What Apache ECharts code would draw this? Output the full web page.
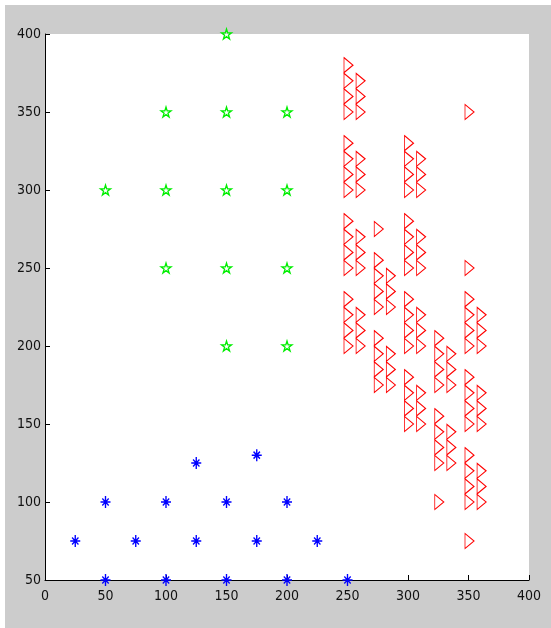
<!DOCTYPE html>
<html>
<head>
<meta charset="utf-8">
<script src="https://cdn.jsdelivr.net/npm/echarts@6/dist/echarts.min.js"></script>
<style>
html,body{margin:0;padding:0;background:#ffffff;}
#frame{position:absolute;left:5px;top:5px;right:0;bottom:0;background:#cccccc;}
#chart{position:absolute;left:0;top:0;width:551px;height:628px;}
</style>
</head>
<body>
<div id="frame"></div>
<div id="chart"></div>
<script>
// Blue asterisks
const blueX = [50, 100, 150, 200, 250, 25, 75, 125, 175, 225, 50, 100, 150, 200, 125, 175];
const blueY = [50, 50, 50, 50, 50, 75, 75, 75, 75, 75, 100, 100, 100, 100, 125, 130];

// Green pentagrams
const greenX = [150, 100, 150, 200, 50, 100, 150, 200, 100, 150, 200, 150, 200];
const greenY = [400, 350, 350, 350, 300, 300, 300, 300, 250, 250, 250, 200, 200];

// Red right-pointing triangles, by column
const redColumnX = [250, 260, 275, 285, 300, 310, 325, 335, 350, 360];
const redColumnY = [
  [380, 370, 360, 350, 330, 320, 310, 300, 280, 270, 260, 250, 230, 220, 210, 200],
  [370, 360, 350, 320, 310, 300, 270, 260, 250, 220, 210, 200],
  [275, 255, 245, 235, 225, 205, 195, 185, 175],
  [245, 235, 225, 195, 185, 175],
  [330, 320, 310, 300, 280, 270, 260, 250, 230, 220, 210, 200, 180, 170, 160, 150],
  [320, 310, 300, 270, 260, 250, 220, 210, 200, 170, 160, 150],
  [205, 195, 185, 175, 155, 145, 135, 125, 100],
  [195, 185, 175, 145, 135, 125],
  [350, 250, 230, 220, 210, 200, 180, 170, 160, 150, 130, 120, 110, 100, 75],
  [220, 210, 200, 170, 160, 150, 120, 110, 100]
];

// Axis ticks
const xTicks = [0, 50, 100, 150, 200, 250, 300, 350, 400];
const yTicks = [50, 100, 150, 200, 250, 300, 350, 400];

const blueData = blueX.map((x, i) => [x, blueY[i]]);
const greenData = greenX.map((x, i) => [x, greenY[i]]);
const redData = [];
redColumnX.forEach((x, c) => redColumnY[c].forEach(y => redData.push([x, y])));

const FONT = "'Liberation Sans Narrow','DejaVu Sans Condensed','Liberation Sans',sans-serif";

const chart = echarts.init(document.getElementById('chart'), null, {renderer: 'canvas'});
chart.setOption({
  backgroundColor: 'transparent',
  animation: false,
  grid: {
    left: 45, top: 34, width: 484, height: 546,
    show: true, backgroundColor: '#ffffff', borderWidth: 0
  },
  xAxis: {
    type: 'value',
    min: xTicks[0], max: xTicks[xTicks.length - 1], interval: 50,
    axisLine: {show: true, onZero: false, lineStyle: {color: '#000000', width: 1}},
    axisTick: {show: true, inside: true, length: 5, lineStyle: {color: '#000000'}},
    splitLine: {show: false},
    axisLabel: {color: '#111111', fontFamily: FONT, fontSize: 14, margin: 9}
  },
  yAxis: {
    type: 'value',
    min: yTicks[0], max: yTicks[yTicks.length - 1], interval: 50,
    axisLine: {show: true, onZero: false, lineStyle: {color: '#000000', width: 1}},
    axisTick: {show: true, inside: true, length: 5, lineStyle: {color: '#000000'}},
    splitLine: {show: false},
    axisLabel: {color: '#111111', fontFamily: FONT, fontSize: 14, margin: 4}
  },
  series: [
    {
      type: 'scatter',
      data: redData,
      symbol: 'path://M0,0 L10,7.5 L0,15 Z',
      symbolSize: [9, 15],
      symbolOffset: [1, 0],
      itemStyle: {color: 'rgba(0,0,0,0)', borderColor: '#ff0000', borderWidth: 1, opacity: 1},
      clip: false
    },
    {
      type: 'scatter',
      data: greenData,
      symbol: 'path://M10,0 L12.25,6.91 L19.51,6.91 L13.63,11.18 L15.88,18.09 L10,13.82 L4.12,18.09 L6.37,11.18 L0.49,6.91 L7.75,6.91 Z',
      symbolSize: [10, 10],
      itemStyle: {color: 'rgba(0,0,0,0)', borderColor: '#00ee00', borderWidth: 1.3, opacity: 1},
      clip: false
    },
    {
      type: 'scatter',
      data: blueData,
      symbol: 'path://M5,0 L5,12 M0,6 L10,6 M1.8,2.5 L8.2,9.5 M8.2,2.5 L1.8,9.5',
      symbolSize: [10, 12],
      itemStyle: {color: 'rgba(0,0,0,0)', borderColor: '#0000ff', borderWidth: 1.5, opacity: 1},
      clip: false
    }
  ]
});
</script>
</body>
</html>
